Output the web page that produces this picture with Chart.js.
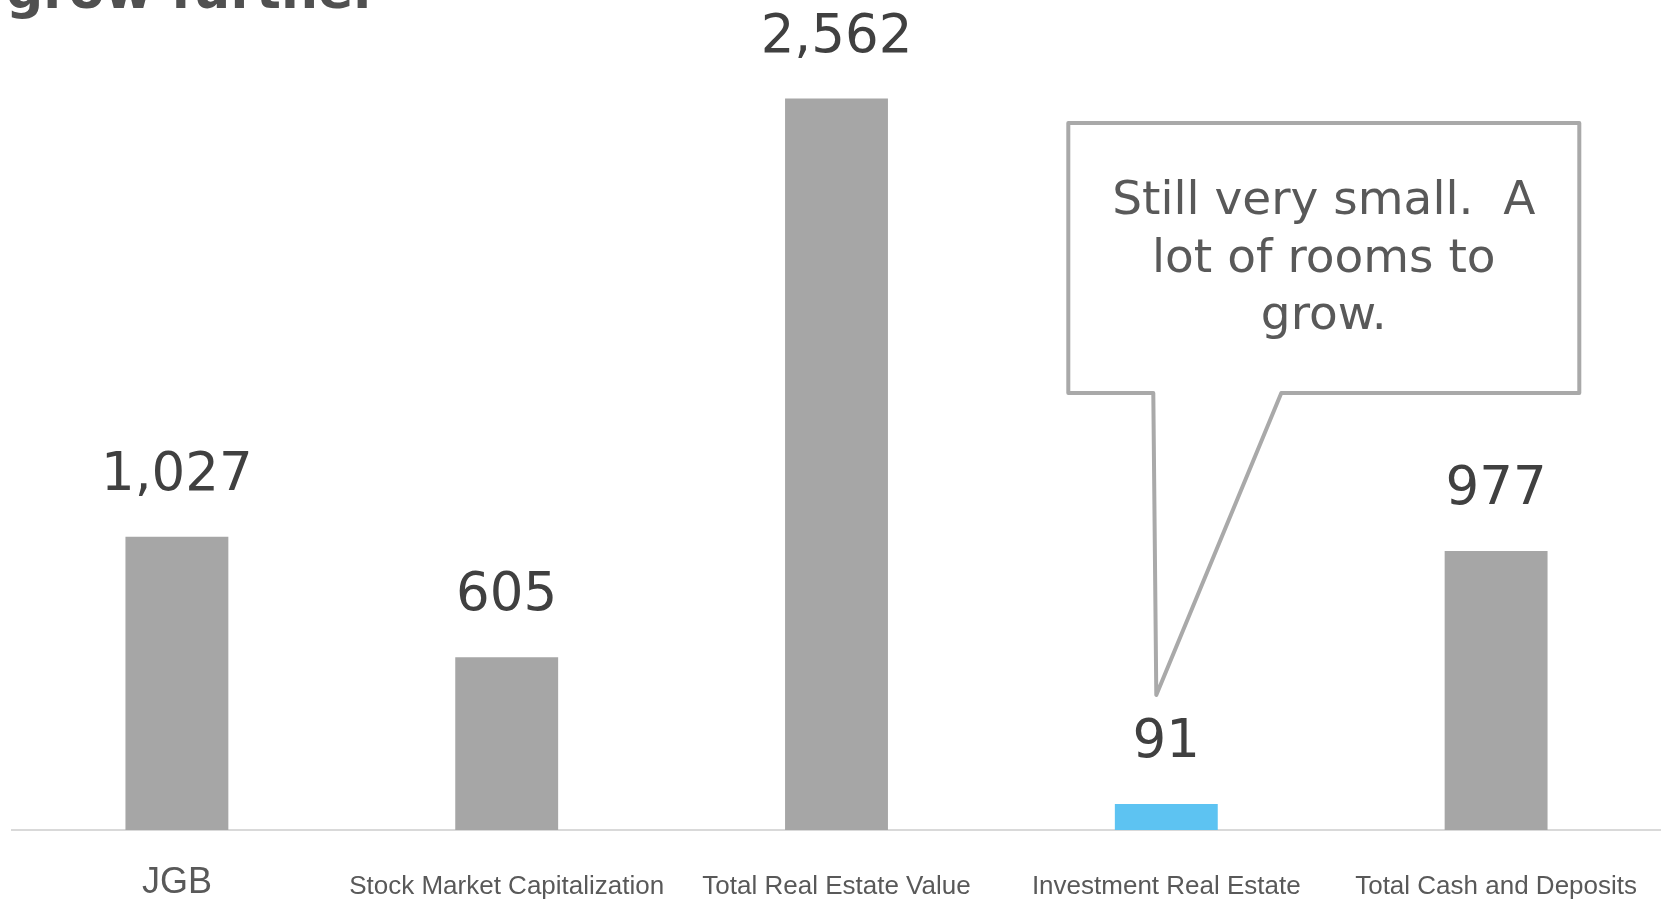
<!DOCTYPE html>
<html>
<head>
<meta charset="utf-8">
<script src="https://cdn.jsdelivr.net/npm/chart.js@4/dist/chart.umd.min.js"></script>
<style>
html,body{margin:0;padding:0;background:#fff;overflow:hidden}
#wrap{position:relative;width:1661px;height:902px}
#title{position:absolute;left:6px;top:-36px;font:bold 52px "DejaVu Sans";line-height:52px;color:#505050;white-space:nowrap}
</style>
</head>
<body>
<div id="wrap">
  <canvas id="c" width="1661" height="902"></canvas>
  <div id="title">grow further</div>
</div>
<script>
const categories = ['JGB', 'Stock Market Capitalization', 'Total Real Estate Value', 'Investment Real Estate', 'Total Cash and Deposits'];
const values = [1027, 605, 2562, 91, 977];
const barColors = ['#A6A6A6', '#A6A6A6', '#A6A6A6', '#5DC3F2', '#A6A6A6'];
const calloutIndex = 3;
const calloutLines = ['Still very small.  A', 'lot of rooms to', 'grow.'];

const valueLabels = {
  id: 'valueLabels',
  afterDatasetsDraw(chart) {
    const ctx = chart.ctx;
    const meta = chart.getDatasetMeta(0);
    ctx.save();
    ctx.font = '53px "DejaVu Sans"';
    ctx.fillStyle = '#404040';
    ctx.textAlign = 'center';
    ctx.textBaseline = 'alphabetic';
    meta.data.forEach((bar, i) => {
      ctx.fillText(values[i].toLocaleString('en-US'), bar.x, bar.y - 47);
    });
    ctx.restore();
  }
};

const callout = {
  id: 'callout',
  afterDraw(chart) {
    const ctx = chart.ctx;
    const bar = chart.getDatasetMeta(0).data[calloutIndex];
    const cx = bar.x;
    const labelBase = bar.y - 47;
    const left = cx - 98, right = cx + 413, top = 123, bottom = 393;
    const tailL = cx - 13, tailR = cx + 115, tipX = cx - 10, tipY = labelBase - 62;
    ctx.save();
    ctx.beginPath();
    ctx.moveTo(left, top);
    ctx.lineTo(right, top);
    ctx.lineTo(right, bottom);
    ctx.lineTo(tailR, bottom);
    ctx.lineTo(tipX, tipY);
    ctx.lineTo(tailL, bottom);
    ctx.lineTo(left, bottom);
    ctx.closePath();
    ctx.fillStyle = '#ffffff';
    ctx.fill();
    ctx.lineWidth = 4;
    ctx.lineJoin = 'round';
    ctx.strokeStyle = '#A9A9A9';
    ctx.stroke();
    ctx.font = '47px "DejaVu Sans"';
    ctx.fillStyle = '#595959';
    ctx.textAlign = 'center';
    ctx.textBaseline = 'alphabetic';
    const mid = (left + right) / 2;
    calloutLines.forEach((t, i) => ctx.fillText(t, mid, top + 91 + i * 57.5));
    ctx.restore();
  }
};

new Chart(document.getElementById('c'), {
  type: 'bar',
  data: {
    labels: categories,
    datasets: [{
      data: values,
      backgroundColor: barColors,
      borderWidth: 0,
      barPercentage: 0.312,
      categoryPercentage: 1
    }]
  },
  options: {
    responsive: false,
    animation: false,
    layout: { padding: { left: 12, right: 0, top: 2, bottom: 0 } },
    plugins: { legend: { display: false }, tooltip: { enabled: false }, title: { display: false } },
    scales: {
      x: {
        grid: { display: false, drawTicks: false },
        border: { display: true, color: '#D9D9D9', width: 2 },
        ticks: {
          autoSkip: false,
          maxRotation: 0,
          minRotation: 0,
          padding: 41,
          color: '#595959',
          font: (c) => c.index === 0
            ? { family: 'Liberation Sans', size: 36, lineHeight: 0.67 }
            : { family: 'Liberation Sans', size: 26, lineHeight: 1.2 }
        },
        afterFit: (s) => { s.height = 72; s.paddingLeft = 0; s.paddingRight = 0; }
      },
      y: { display: false, min: 0, max: 2900 }
    }
  },
  plugins: [valueLabels, callout]
});
</script>
</body>
</html>
